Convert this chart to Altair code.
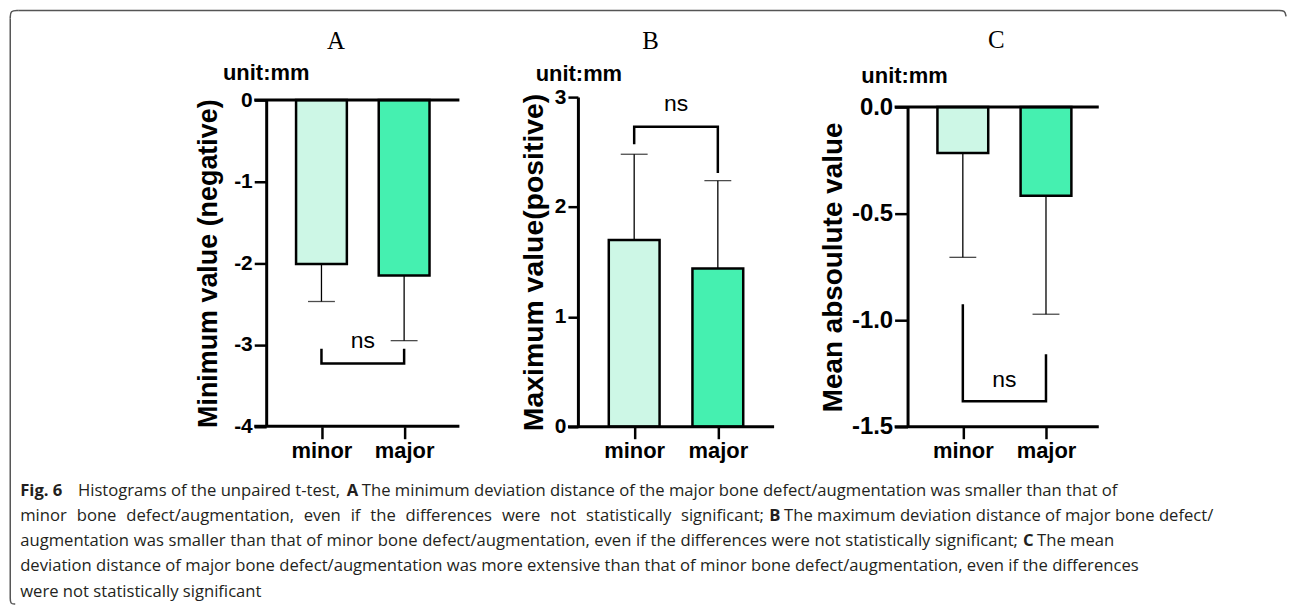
import altair as alt
import pandas as pd

# ---------------- data ----------------
groups = ["minor", "major"]
colors = ["#CDF7E6", "#45F0B0"]

letters = ["A", "B", "C"]
unit_label = "unit:mm"
y_titles = ["Minimum value (negative)", "Maximum value(positive)", "Mean absoulute value"]

means_A = [-2.01, -2.15]
errs_A = [0.46, 0.80]
means_B = [1.70, 1.44]
errs_B = [0.78, 0.80]
means_C = [-0.215, -0.416]
errs_C = [0.49, 0.556]

ticks_A = [-4, -3, -2, -1, 0]
ticks_B = [0, 1, 2, 3]
ticks_C = [-1.5, -1.0, -0.5, 0.0]

hlines_A = [-4, 0]
hlines_B = [0]
hlines_C = [-1.5, 0]

# bracket: horizontal bar level, leg ends (minor, major), "ns" level
bracket_A = [-3.23, -3.05, -3.05, -2.95]
bracket_B = [2.73, 2.57, 2.31, 2.94]
bracket_C = [-1.38, -0.925, -1.16, -1.28]

caption_lines = [
    [("Fig. 6", True), ("Histograms of the unpaired t-test,", False), ("A", True),
     ("The minimum deviation distance of the major bone defect/augmentation was smaller than that of", False)],
    [("minor bone defect/augmentation, even if the differences were not statistically significant;", False),
     ("B", True), ("The maximum deviation distance of major bone defect/", False)],
    [("augmentation was smaller than that of minor bone defect/augmentation, even if the differences were not statistically significant;", False),
     ("C", True), ("The mean", False)],
    [("deviation distance of major bone defect/augmentation was more extensive than that of minor bone defect/augmentation, even if the differences", False)],
    [("were not statistically significant", False)],
]

# ---------------- layout / style ----------------
SANS = "Liberation Sans"
SERIF = "Liberation Serif"
CAP_FONT = "Open Sans"
CAP_SIZE = 16.7
PANEL_H = 331
ORIGIN_X = 255
ORIGIN_Y = 96
CAPTION_Y = 470

layouts = [
    dict(w=315, lw=206, yoff=12, xr=[67.5, 150.5], yr=[330.5, 3], dom=[-4, 0], fmt="d",
         title_xy=(82, -56), unit_xy=(12, -24), tpad=11, tsize=27, lsize=21),
    dict(w=328, lw=207, yoff=10, xr=[66.5, 150.5], yr=[331, 0], dom=[0, 3], fmt="d",
         title_xy=(83, -56), unit_xy=(11, -23), tpad=6, tsize=28.5, lsize=21),
    dict(w=220, lw=205, yoff=13, xr=[68.5, 152], yr=[331, 10], dom=[-1.5, 0], fmt=".1f",
         title_xy=(102, -57), unit_xy=(10, -21), tpad=4, tsize=28, lsize=24),
]
# left x of each caption segment; a (left, right) pair spreads the words across that span
caption_x = [[20, 78, 348, 363], [(20, 767), 772, 787], [(20, 1022), 1027, 1041], [20], [20]]
caption_y = [492, 517, 542, 567, 593]

# approximate advance widths (em) of the caption face, used only to spread words
ADV = dict(a=.556, b=.613, c=.476, d=.613, e=.561, f=.339, g=.548, h=.614, i=.253, j=.253,
           k=.525, l=.253, m=.930, n=.614, o=.604, p=.613, q=.613, r=.408, s=.477, t=.353,
           u=.614, v=.501, w=.778, x=.524, y=.502, z=.477)
ADV.update({"/": .366, ",": .245, ";": .266, "-": .322, ".": .266})
SPACE = .26


def panel(i, means, errs, ticks, hlines, brk):
    lay = layouts[i]
    sign = -1 if means[0] < 0 else 1
    df = pd.DataFrame({
        "group": groups,
        "mean": means,
        "end": [m + sign * e for m, e in zip(means, errs)],
    })
    xscale = alt.Scale(type="point", domain=groups, range=lay["xr"], padding=0)
    xaxis = alt.Axis(title=None, domain=False, tickSize=12, tickWidth=2.5, tickColor="black",
                     labelFont=SANS, labelFontSize=22, labelFontWeight="bold", labelColor="black",
                     labelAngle=0, labelPadding=2)
    yscale = alt.Scale(domain=lay["dom"], range=lay["yr"], nice=False)
    yaxis = alt.Axis(values=ticks, format=lay["fmt"], labelExpr="replace(datum.label, '\u2212', '-')",
                     offset=-lay["yoff"], tickSize=lay["yoff"], tickWidth=2.5, tickColor="black",
                     domainWidth=3, domainColor="black", grid=False,
                     labelFont=SANS, labelFontSize=lay["lsize"], labelFontWeight="bold",
                     labelColor="black", labelPadding=2,
                     title=y_titles[i], titleFont=SANS, titleFontSize=lay["tsize"],
                     titleFontWeight="bold", titleColor="black", titlePadding=lay["tpad"])

    def X(field="group"):
        return alt.X(f"{field}:N", scale=xscale, axis=xaxis, sort=groups)

    def Y(field):
        return alt.Y(f"{field}:Q", scale=yscale, axis=yaxis)

    err = alt.Chart(df).mark_rule(color="black", strokeWidth=1.3).encode(
        x=X(), y=Y("mean"), y2="end:Q")
    cap = alt.Chart(df).mark_tick(orient="horizontal", size=27, thickness=1.3, color="black").encode(
        x=X(), y=Y("end"))
    bars = alt.Chart(df).mark_bar(size=51, stroke="black", strokeWidth=2.5).encode(
        x=X(), y=Y("mean"),
        color=alt.Color("group:N", scale=alt.Scale(domain=groups, range=colors), legend=None))

    hdf = pd.DataFrame({"v": hlines})
    rules = alt.Chart(hdf).mark_rule(color="black", strokeWidth=3).encode(
        y=Y("v"), x=alt.value(0), x2=alt.value(lay["lw"]))

    bdf = pd.DataFrame({
        "group": ["minor", "minor", "major", "major"],
        "b": [brk[1], brk[0], brk[0], brk[2]],
        "o": [0, 1, 2, 3],
    })
    bracket = alt.Chart(bdf).mark_line(color="black", strokeWidth=2.5, strokeJoin="miter").encode(
        x=X(), y=Y("b"), order="o:O")
    ndf = pd.DataFrame({"group": ["minor"], "n": [brk[3]], "t": ["ns"]})
    ns = alt.Chart(ndf).mark_text(font=SANS, fontSize=23, color="black", baseline="middle",
                                  dx=(lay["xr"][1] - lay["xr"][0]) / 2).encode(
        x=X(), y=Y("n"), text="t:N")

    tdf = pd.DataFrame({"t": [letters[i]]})
    ttl = alt.Chart(tdf).mark_text(font=SERIF, fontSize=25, color="black", baseline="middle").encode(
        x=alt.value(lay["title_xy"][0]), y=alt.value(lay["title_xy"][1]), text="t:N")
    udf = pd.DataFrame({"t": [unit_label]})
    unit = alt.Chart(udf).mark_text(font=SANS, fontSize=22, fontWeight="bold", color="black",
                                    baseline="middle").encode(
        x=alt.value(lay["unit_xy"][0]), y=alt.value(lay["unit_xy"][1]), text="t:N")

    return alt.layer(err, cap, bars, rules, bracket, ns, ttl, unit).properties(
        width=lay["w"], height=PANEL_H)


pA = panel(0, means_A, errs_A, ticks_A, hlines_A, bracket_A)
pB = panel(1, means_B, errs_B, ticks_B, hlines_B, bracket_B)
pC = panel(2, means_C, errs_C, ticks_C, hlines_C, bracket_C)


def word_w(w):
    return sum(ADV.get(ch, .56) for ch in w) * CAP_SIZE


# caption
rows = []
for li, segs in enumerate(caption_lines):
    for si, (txt, bold) in enumerate(segs):
        pos = caption_x[li][si]
        y = caption_y[li] - CAPTION_Y
        if isinstance(pos, tuple):
            x0, x1 = pos
            words = txt.split(" ")
            widths = [word_w(w) for w in words]
            natural = sum(widths) + SPACE * CAP_SIZE * (len(words) - 1)
            extra = max(0.0, (x1 - x0 - natural) / (len(words) - 1))
            x = x0
            for w, ww in zip(words, widths):
                rows.append({"t": w, "x": x - ORIGIN_X, "y": y, "bold": bold})
                x += ww + SPACE * CAP_SIZE + extra
        else:
            rows.append({"t": txt, "x": pos - ORIGIN_X, "y": y, "bold": bold})
cdf = pd.DataFrame(rows)
cap_norm = alt.Chart(cdf[~cdf["bold"]]).mark_text(
    font=CAP_FONT, fontSize=CAP_SIZE, color="#231F20", align="left", baseline="middle").encode(
    x=alt.X("x:Q", scale=None), y=alt.Y("y:Q", scale=None), text="t:N")
cap_bold = alt.Chart(cdf[cdf["bold"]]).mark_text(
    font=CAP_FONT, fontSize=CAP_SIZE, fontWeight="bold", color="#231F20", align="left",
    baseline="middle").encode(
    x=alt.X("x:Q", scale=None), y=alt.Y("y:Q", scale=None), text="t:N")

# decorative frame around the figure (page pixels)
FRAME = "#555555"
fdf = pd.DataFrame({"k": [0]})
frame_top = alt.Chart(fdf).mark_rule(color=FRAME, strokeWidth=1.5).encode(
    x=alt.value(18 - ORIGIN_X), x2=alt.value(1283 - ORIGIN_X), y=alt.value(9 - CAPTION_Y))
frame_left = alt.Chart(fdf).mark_rule(color=FRAME, strokeWidth=1.5).encode(
    x=alt.value(10 - ORIGIN_X), y=alt.value(17 - CAPTION_Y), y2=alt.value(598 - CAPTION_Y))
corner_pts = pd.DataFrame({
    "c": [0, 0, 0, 1, 1, 1, 2, 2, 2],
    "o": [0, 1, 2, 0, 1, 2, 0, 1, 2],
    "px": [10, 10, 18, 1283, 1290, 1291, 10, 10, 15],
    "py": [17, 9, 9, 9, 9, 15, 598, 605, 605],
})
corner_pts["px"] = corner_pts["px"] - ORIGIN_X
corner_pts["py"] = corner_pts["py"] - CAPTION_Y
corners = alt.Chart(corner_pts).mark_line(color=FRAME, strokeWidth=1.5, interpolate="basis",
                                          strokeJoin="round").encode(
    x=alt.X("px:Q", scale=None), y=alt.Y("py:Q", scale=None), detail="c:N", order="o:O")

caption = alt.layer(frame_top, frame_left, corners, cap_norm, cap_bold).properties(width=900, height=120)

row = alt.hconcat(pA, pB, pC, spacing=0, bounds="flush")
# the nested row counts as zero height in a flush layout, so the spacing spans the panels
chart = alt.vconcat(row, caption, spacing=CAPTION_Y - ORIGIN_Y, bounds="flush").configure_view(
    stroke=None).properties(padding={"left": 1.25, "top": 0.25, "right": 0, "bottom": 2})

chart.save("out.html", embed_options={"renderer": "svg", "actions": False})
